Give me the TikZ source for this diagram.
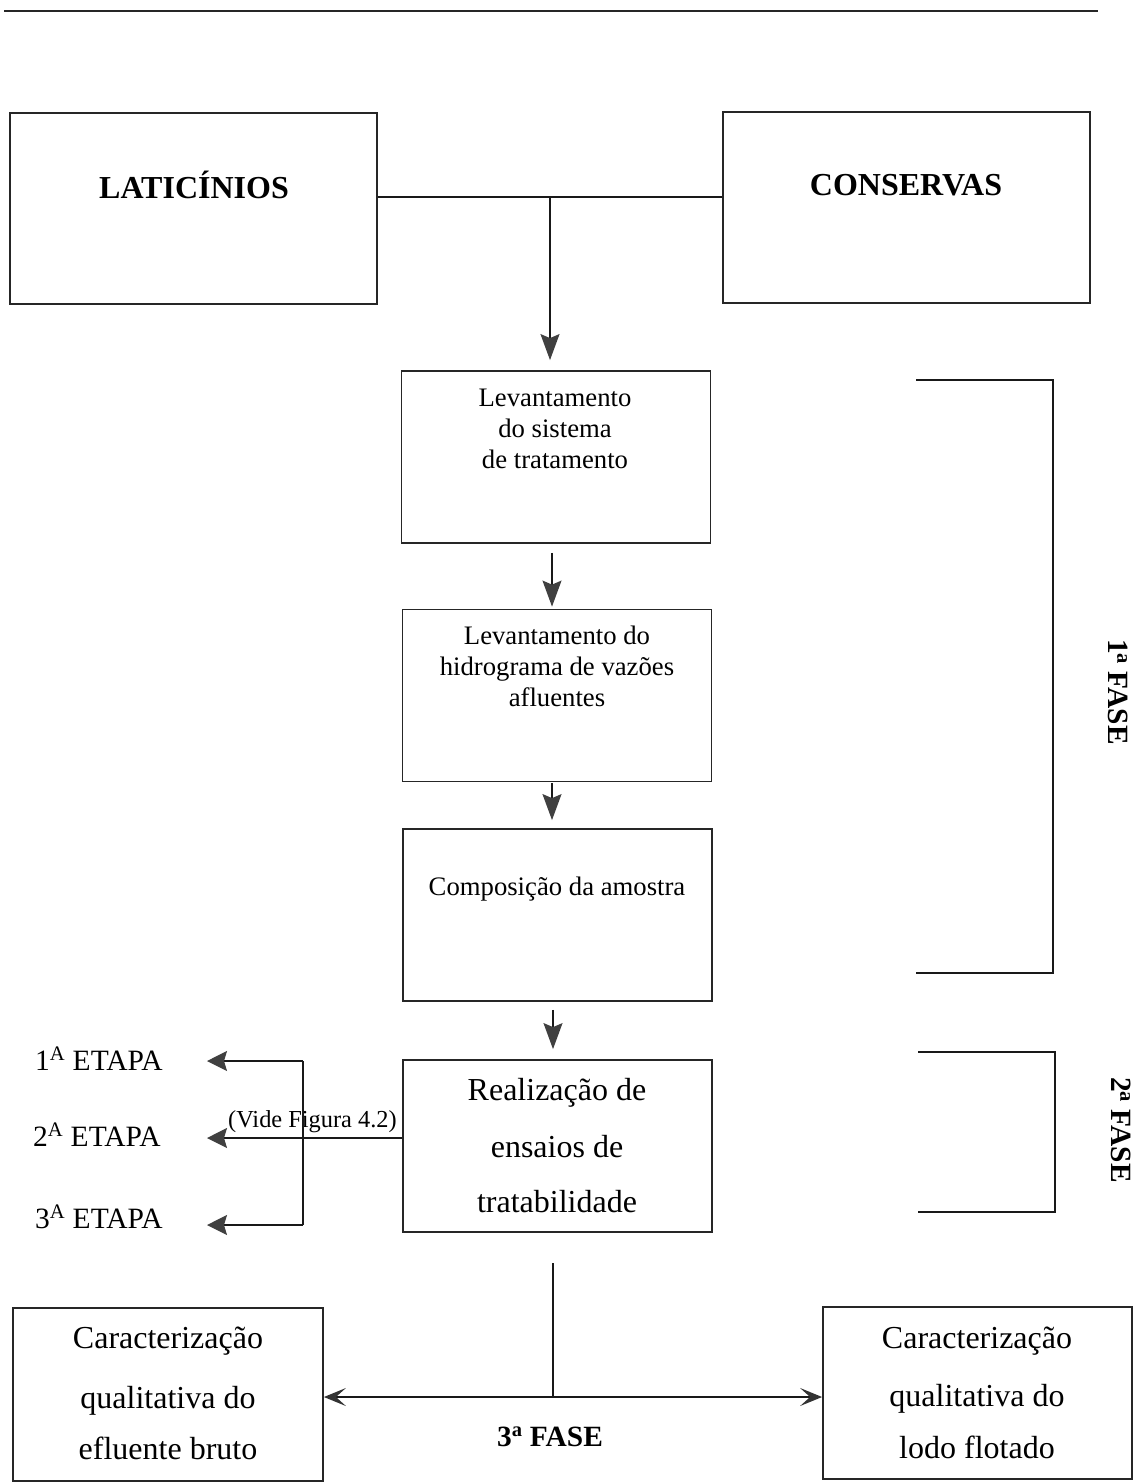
\documentclass[tikz,border=0pt]{standalone}
\usepackage{fontspec}
\setmainfont{Liberation Serif}
\usetikzlibrary{arrows.meta}
\tikzset{
  tipD/.tip={Stealth[length=26pt,width=19pt,inset=4pt,color=black!75]},
  tipL/.tip={Stealth[length=20pt,width=20pt,inset=3pt,color=black!75]},
  tipB/.tip={Stealth[length=22pt,width=18pt,inset=10pt,color=black!80]},
  box/.style={draw=black!85, line width=1.8pt, inner sep=0pt, minimum width=309pt, minimum height=172pt},
  bigbox/.style={box, minimum width=367pt, minimum height=191pt},
  conn/.style={draw=black!90, line width=1.4pt},
  bracket/.style={draw=black!90, line width=1.6pt},
  mid/.style={font=\fontsize{26.7}{31}\selectfont, inner sep=0pt, anchor=base},
  big/.style={font=\fontsize{32}{38}\selectfont, inner sep=0pt, anchor=base},
  ttl/.style={font=\fontsize{32}{38}\selectfont\bfseries, inner sep=0pt, anchor=base},
  etapa/.style={font=\fontsize{29.5}{34}\selectfont, inner sep=0pt, anchor=base west},
  vide/.style={font=\fontsize{24.4}{28}\selectfont, inner sep=0pt, anchor=base west},
  fase/.style={font=\fontsize{29.4}{34}\selectfont\bfseries, inner sep=0pt}
}
\begin{document}
\begin{tikzpicture}[x=1pt,y=-1pt]
\useasboundingbox (0,0) rectangle (1147,1482);
% top rule
\draw[line width=2pt, black!85] (4,11) -- (1098,11);

% boxes
\node[bigbox] (lat) at (193.5,208.5) {};
\node[bigbox] (con) at (906.5,207.5) {};
\node[box] (bA) at (556,457) {};
\node[box] (bB) at (557,695.5) {};
\node[box] (bC) at (557.5,915) {};
\node[box] (bD) at (557.5,1146) {};
\node[box, minimum width=310pt, minimum height=173pt] (bl) at (168,1394.5) {};
\node[box] (br) at (977.5,1393) {};

% texts
\node[ttl] (tlat) at (194,198) {LATICÍNIOS};
\node[ttl] (tcon) at (906,196) {CONSERVAS};

\node[mid] (a1) at (555,406) {Levantamento};
\node[mid] (a2) at (555,437) {do sistema};
\node[mid] (a3) at (555,468) {de tratamento};

\node[mid] (b1) at (557,644) {Levantamento do};
\node[mid] (b2) at (557,675) {hidrograma de vazões};
\node[mid] (b3) at (557,706) {afluentes};

\node[mid] (c1) at (557,895) {Composição da amostra};

\node[big] (d1) at (557,1100) {Realização de};
\node[big] (d2) at (557,1157) {ensaios de};
\node[big] (d3) at (557,1212) {tratabilidade};

\node[big] (l1) at (168,1348) {Caracterização};
\node[big] (l2) at (168,1408) {qualitativa do};
\node[big] (l3) at (168,1459) {efluente bruto};

\node[big] (r1) at (977,1348) {Caracterização};
\node[big] (r2) at (977,1406) {qualitativa do};
\node[big] (r3) at (977,1458) {lodo flotado};

\node[etapa] (e1) at (35,1070) {1\textsuperscript{A} ETAPA};
\node[etapa] (e2) at (33,1146) {2\textsuperscript{A} ETAPA};
\node[etapa] (e3) at (35,1228) {3\textsuperscript{A} ETAPA};
\node[vide] (vide) at (228,1127) {(Vide Figura 4.2)};

\node[fase, rotate=-90] (f1) at (1118,692) {1\textsuperscript{a} FASE};
\node[fase, rotate=-90] (f2) at (1121,1130) {2\textsuperscript{a} FASE};
\node[fase, anchor=base] (f3) at (550,1446) {3\textsuperscript{a} FASE};

% coordinates
\coordinate (j1) at (550,197);
\coordinate (xa) at (552,0);
\coordinate (xd) at (553,0);
\coordinate (v1) at (303,1061);
\coordinate (v3) at (303,1225);
\coordinate (t1) at (207,1061);
\coordinate (t2) at (207,1138);
\coordinate (t3) at (207,1225);
\coordinate (s3) at (553,1263);
\coordinate (j3) at (553,1397);

% top connector
\draw[conn] (lat.east |- j1) -- (con.west |- j1);
\draw[conn, -{tipD}, shorten >=10pt] (j1) -- (j1 |- bA.north);
% chain
\draw[conn, -{tipD}, shorten <=9pt, shorten >=2pt] (xa |- bA.south) -- (xa |- bB.north);
\draw[conn, -{tipD}, shorten <=1pt, shorten >=8pt] (xa |- bB.south) -- (xa |- bC.north);
\draw[conn, -{tipD}, shorten <=8pt, shorten >=10pt] (xd |- bC.south) -- (xd |- bD.north);

% etapas
\draw[conn, -{tipL}] (v1) -- (t1);
\draw[conn, -{tipL}] (v3) -- (t3);
\draw[conn] (v1) -- (v3);
\draw[conn, -{tipL}] (bD.west |- t2) -- (t2);

% 3a fase
\draw[conn] (s3) -- (j3);
\draw[conn, {tipB}-{tipB}] (bl.east |- j3) -- (br.west |- j3);

% brackets
\draw[bracket] (916,380) -- (1053,380) -- (1053,973) -- (916,973);
\draw[bracket] (918,1052) -- (1055,1052) -- (1055,1212) -- (918,1212);
\end{tikzpicture}
\end{document}
